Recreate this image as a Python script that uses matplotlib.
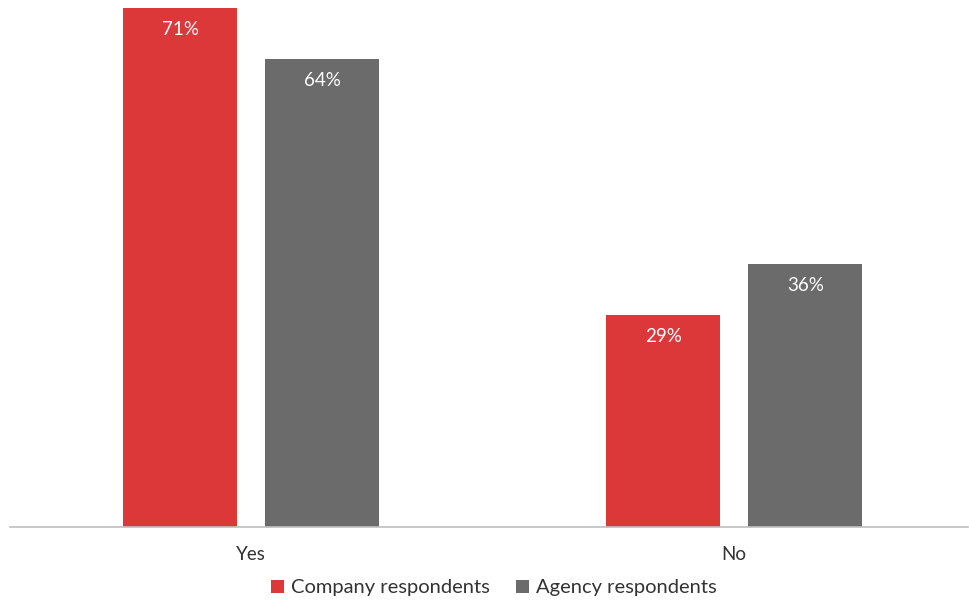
import matplotlib.pyplot as plt
import numpy as np

categories = ["Yes", "No"]
company = [71, 29]
agency = [64, 36]
series_names = ["Company respondents", "Agency respondents"]

RED = "#DC383A"
GREY = "#6B6B6B"

plt.rcParams["font.family"] = ["Lato", "DejaVu Sans"]

fig = plt.figure(figsize=(9.69, 6.0), dpi=100)
ax = fig.add_axes([10 / 969, 73 / 600, 958 / 969, 527 / 600])

x = np.arange(len(categories))
width = 0.236
offset = 0.147

bars1 = ax.bar(x - offset, company, width, color=RED, label=series_names[0])
bars2 = ax.bar(x + offset, agency, width, color=GREY, label=series_names[1])

# value labels just inside the top of each bar
for bars, vals in ((bars1, company), (bars2, agency)):
    for bar, v in zip(bars, vals):
        ax.annotate(f"{v}%",
                    xy=(bar.get_x() + bar.get_width() / 2, v),
                    xytext=(0, -9.5), textcoords="offset points",
                    ha="center", va="top", color="white", fontsize=13.5)

ax.set_xlim(-0.499, 1.484)
ax.set_ylim(0, 72.1)
ax.set_xticks(x)
ax.set_xticklabels(categories, fontsize=13.5, color="#333333")
ax.tick_params(axis="x", length=0, pad=13.5)
ax.set_yticks([])
for side in ("top", "right", "left"):
    ax.spines[side].set_visible(False)
ax.spines["bottom"].set_color("#BFBFBF")
ax.spines["bottom"].set_linewidth(1.2)

fig.legend(handles=[bars1, bars2], labels=series_names,
           loc="center", bbox_to_anchor=(494 / 969, 12 / 600),
           ncol=2, frameon=False, fontsize=14.5,
           handlelength=0.65, handleheight=0.65, handletextpad=0.35,
           columnspacing=1.3, labelcolor="#333333")

fig.savefig("out.png", dpi=100)
